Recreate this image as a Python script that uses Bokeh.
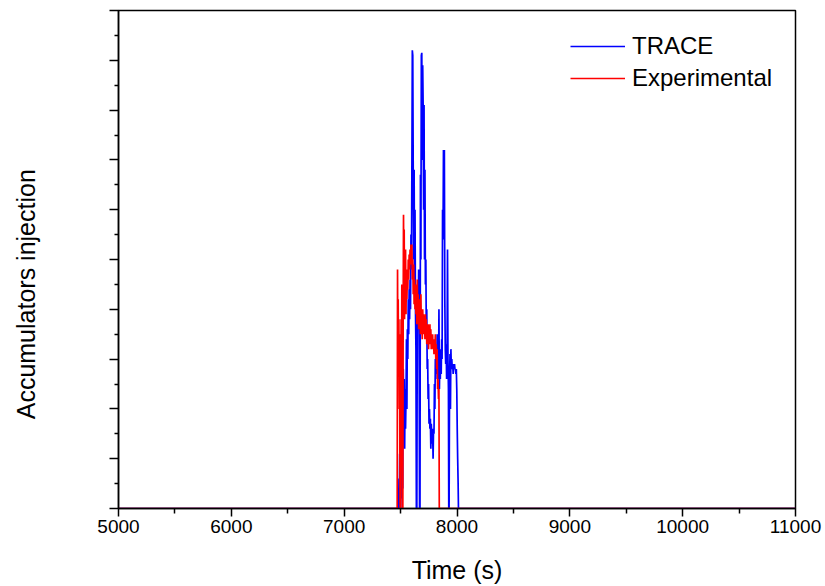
from bokeh.plotting import figure
from bokeh.models import Range1d, FixedTicker, Legend, LegendItem, CustomJSTickFormatter
from bokeh.embed import file_html
from bokeh.resources import INLINE

# ---- data ----
trace_t = [5000, 7475, 7478, 7480, 7483, 7486, 7489, 7492, 7495, 7498, 7501, 7504, 7507, 7510,
           7513, 7516, 7519, 7520, 7524, 7528, 7532, 7536, 7540, 7544, 7548, 7552, 7556, 7560,
           7564, 7568, 7572, 7576, 7580, 7584, 7588, 7592, 7596, 7600, 7604, 7608, 7612, 7616,
           7620, 7624, 7628, 7632, 7636, 7640, 7644, 7648, 7652, 7656, 7660, 7664, 7668, 7672,
           7676, 7680, 7684, 7688, 7692, 7696, 7700, 7704, 7708, 7712, 7716, 7720, 7724, 7728,
           7732, 7736, 7740, 7744, 7748, 7752, 7756, 7760, 7764, 7768, 7772, 7776, 7780, 7784,
           7788, 7792, 7796, 7800, 7804, 7808, 7812, 7816, 7820, 7824, 7828, 7832, 7836, 7840,
           7844, 7848, 7852, 7856, 7860, 7864, 7868, 7872, 7876, 7880, 7884, 7888, 7892, 7896,
           7900, 7904, 7908, 7912, 7916, 7920, 7924, 7927, 7930, 7934, 7938, 7942, 7946, 7950,
           7954, 7958, 7962, 7966, 7970, 7974, 7978, 7982, 7986, 7990, 7994, 7998, 8002, 8006,
           8010, 8013, 11000]
trace_v = [0, 0, 0, 0.4, 0.1, 0.6, 0.0, 1.1, 0.3, 0.9, 0.0, 1.2, 0.5, 1.1,
           0.2, 1.2, 0.4, 1.5, 2.8, 1.8, 2.6, 1.2, 2.4, 1.6, 2.2, 3.4, 2.0, 3.6,
           3.0, 4.2, 3.5, 4.4, 3.8, 4.6, 4.0, 5.5, 4.8, 6.8, 9.2, 9.1, 6.8, 5.0,
           6.8, 4.5, 6.0, 4.0, 3.2, 0.0, 0.0, 3.5, 4.5, 3.8, 4.8, 3.8, 0.0, 0.0,
           6.7, 5.0, 9.1, 9.15, 7.0, 8.9, 8.1, 6.0, 8.1, 5.0, 6.8, 4.5, 5.0, 3.5,
           4.0, 2.8, 3.0, 2.2, 2.5, 1.7, 2.0, 1.6, 1.8, 1.2, 1.7, 1.5, 1.3, 1.6,
           1.0, 1.6, 1.5, 2.5, 2.0, 3.0, 2.6, 3.2, 2.7, 3.5, 2.8, 3.0, 2.6, 4.0,
           2.4, 3.0, 2.6, 3.2, 2.7, 3.4, 3.0, 6.0, 5.4, 7.2, 6.0, 7.2, 4.2, 3.2,
           2.9, 3.3, 2.6, 3.2, 5.2, 3.0, 2.4, 0.0, 0.0, 2.6, 3.1, 2.0, 3.2, 2.8,
           3.0, 2.8, 2.9, 2.7, 2.9, 2.8, 2.9, 2.8, 2.8, 2.7, 2.8, 2.4, 1.6, 1.0,
           0.5, 0.0, 0.0]

exp_t = [5000, 7470, 7473, 7476, 7479, 7482, 7485, 7488, 7491, 7494, 7496, 7499, 7502, 7505,
         7508, 7511, 7514, 7517, 7520, 7523, 7526, 7529, 7532, 7535, 7538, 7541, 7544, 7548,
         7552, 7556, 7560, 7564, 7568, 7572, 7576, 7580, 7584, 7588, 7592, 7596, 7600, 7604,
         7608, 7612, 7616, 7620, 7624, 7628, 7632, 7636, 7640, 7644, 7648, 7652, 7656, 7660,
         7664, 7668, 7672, 7676, 7680, 7684, 7688, 7692, 7696, 7700, 7704, 7708, 7712, 7716,
         7720, 7724, 7728, 7732, 7736, 7740, 7744, 7748, 7752, 7756, 7760, 7764, 7768, 7772,
         7776, 7780, 7784, 7788, 7792, 7796, 7800, 7804, 7808, 7812, 7816, 7820, 7824, 7828,
         7832, 7836, 7840, 7843, 11000]
exp_v = [0, 0, 4.8, 3.0, 4.2, 2.8, 3.8, 2.0, 3.5, 1.0, 0.0, 0.0, 2.5, 3.8,
         2.0, 4.5, 1.5, 0.0, 0.0, 4.0, 5.9, 4.5, 5.6, 3.8, 5.0, 4.0, 5.2, 3.9,
         4.8, 4.2, 4.7, 4.4, 5.0, 4.6, 5.1, 4.8, 5.2, 4.9, 5.3, 5.0, 5.3, 4.6,
         5.0, 4.3, 4.9, 4.1, 4.6, 4.0, 4.5, 3.9, 4.4, 3.7, 4.6, 3.8, 4.3, 3.6,
         4.2, 3.7, 4.0, 3.5, 4.3, 3.6, 3.9, 3.4, 4.0, 3.7, 3.9, 3.5, 3.8, 3.4,
         3.9, 3.5, 3.8, 3.3, 3.7, 3.4, 3.7, 3.2, 3.6, 3.4, 3.7, 3.3, 3.6, 3.2,
         3.5, 3.3, 3.5, 3.2, 3.4, 3.1, 3.4, 3.2, 3.5, 3.0, 3.3, 2.8, 3.2, 2.4,
         2.6, 2.2, 2.4, 0.0, 0.0]

x_ticks = [5000, 6000, 7000, 8000, 9000, 10000, 11000]
x_minor = [5500, 6500, 7500, 8500, 9500, 10500]
y_ticks = [0, 1, 2, 3, 4, 5, 6, 7, 8, 9, 10]
y_minor = [0.5, 1.5, 2.5, 3.5, 4.5, 5.5, 6.5, 7.5, 8.5, 9.5]
y_title = "Accumulators injection"

FONT = "Liberation Sans"

p = figure(width=825, height=586, output_backend="svg", toolbar_location=None,
           x_range=Range1d(5000, 11000), y_range=Range1d(0, 10),
           min_border_left=118, min_border_right=30, min_border_top=10, min_border_bottom=77)

p.background_fill_color = "white"
p.border_fill_color = "white"
p.outline_line_color = "black"
p.outline_line_width = 1.5
p.grid.visible = False

r_trace = p.line(trace_t, trace_v, line_color="#0000FF", line_width=1.7)
r_exp = p.line(exp_t, exp_v, line_color="#FF0000", line_width=1.7)

xa = p.xaxis[0]
xa.ticker = FixedTicker(ticks=x_ticks, minor_ticks=x_minor)
xa.axis_label = "Time (s)"
xa.axis_label_text_font = FONT
xa.axis_label_text_font_style = "normal"
xa.axis_label_text_font_size = "25px"
xa.axis_label_text_color = "black"
xa.axis_label_standoff = 20
xa.major_label_text_font = FONT
xa.major_label_text_font_size = "19px"
xa.major_label_text_color = "black"
xa.major_label_standoff = 3
xa.axis_line_width = 1.5
xa.major_tick_in = 0
xa.major_tick_out = 8
xa.minor_tick_in = 0
xa.minor_tick_out = 5
xa.major_tick_line_width = 1.5
xa.minor_tick_line_width = 1.5

ya = p.yaxis[0]
ya.ticker = FixedTicker(ticks=y_ticks, minor_ticks=y_minor)
ya.formatter = CustomJSTickFormatter(code="return ''")
# trailing no-break spaces push the visible title below the axis centre, as in the original
ya.axis_label = y_title + "\u00a0" * 10
ya.axis_label_text_font = FONT
ya.axis_label_text_font_style = "normal"
ya.axis_label_text_font_size = "25px"
ya.axis_label_text_color = "black"
ya.axis_label_standoff = 70
ya.major_label_standoff = 0
ya.axis_line_width = 1.5
ya.major_tick_in = 0
ya.major_tick_out = 9
ya.minor_tick_in = 0
ya.minor_tick_out = 4
ya.major_tick_line_width = 1.5
ya.minor_tick_line_width = 1.5

legend = Legend(items=[LegendItem(label="TRACE", renderers=[r_trace]),
                       LegendItem(label="Experimental", renderers=[r_exp])],
                location=(452, 414))
legend.background_fill_alpha = 0
legend.border_line_color = None
legend.padding = 0
legend.margin = 0
legend.spacing = 0
legend.glyph_width = 55
legend.glyph_height = 32
legend.label_height = 32
legend.label_standoff = 7
legend.label_text_font = FONT
legend.label_text_font_size = "24px"
legend.label_text_color = "black"
p.add_layout(legend, "center")

open("out.html", "w").write(file_html(p, INLINE))
